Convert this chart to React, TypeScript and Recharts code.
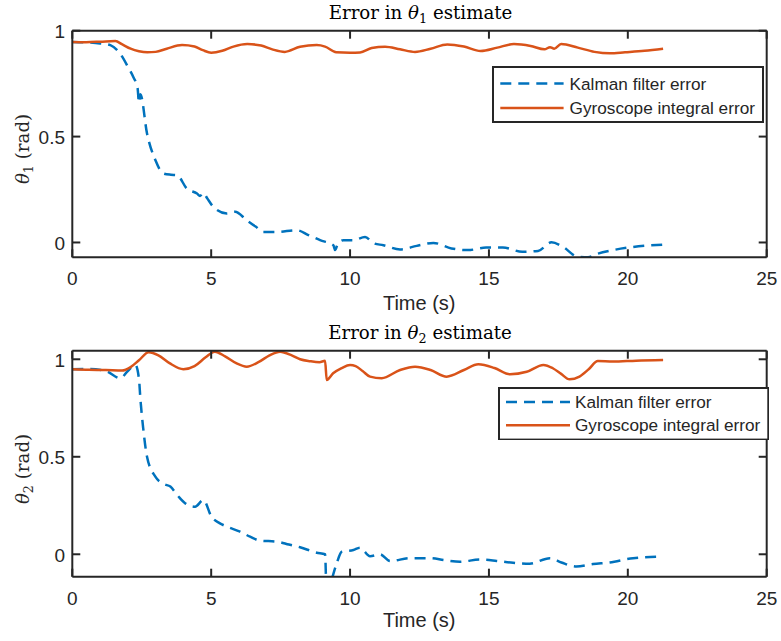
import React from 'react';
import { LineChart, Line, XAxis, YAxis, Legend } from 'recharts';

const xTicks = [0, 5, 10, 15, 20, 25];
const yTicks = [0, 0.5, 1];
const seriesNames = ['Kalman filter error', 'Gyroscope integral error'];

// theta1 - Kalman filter error
const kalman1T = [0, 0.5, 1.0, 1.37, 1.73, 2.0, 2.2, 2.35, 2.4, 2.45, 2.69, 2.99, 3.28, 3.55, 3.77, 4.12, 4.49, 4.6, 4.72, 4.85, 5.08, 5.56, 5.86, 6.28, 6.6, 6.88, 7.36, 8.08, 8.5, 8.92, 9.4, 9.46, 9.55, 9.76, 10.12, 10.54, 10.84, 11.2, 11.8, 12.4, 13.0, 13.65, 14.25, 14.9, 15.5, 16.2, 16.77, 17.25, 17.67, 18.15, 18.57, 18.87, 19.47, 20.19, 21.27];
const kalman1V = [0.947, 0.945, 0.94, 0.932, 0.89, 0.83, 0.78, 0.73, 0.66, 0.7, 0.515, 0.389, 0.326, 0.32, 0.318, 0.255, 0.231, 0.22, 0.235, 0.21, 0.168, 0.137, 0.145, 0.105, 0.075, 0.05, 0.05, 0.058, 0.035, 0.011, -0.013, -0.036, -0.01, 0.011, 0.011, 0.026, -0.003, -0.013, -0.033, -0.016, -0.002, -0.028, -0.036, -0.024, -0.024, -0.044, -0.04, 0.001, -0.021, -0.065, -0.07, -0.055, -0.036, -0.021, -0.01];

// theta1 - Gyroscope integral error
const gyro1T = [0, 0.5, 1.0, 1.55, 1.8, 2.1, 2.4, 2.7, 3.0, 3.4, 3.95, 4.4, 4.7, 5.0, 5.4, 5.8, 6.3, 6.8, 7.2, 7.65, 8.2, 8.8, 9.1, 9.5, 10.0, 10.36, 10.78, 11.26, 11.8, 12.34, 12.9, 13.5, 14.1, 14.7, 15.3, 15.9, 16.5, 17.0, 17.2, 17.35, 17.6, 18.2, 18.8, 19.35, 19.9, 20.6, 21.27];
const gyro1V = [0.947, 0.946, 0.948, 0.951, 0.935, 0.915, 0.903, 0.898, 0.9, 0.915, 0.932, 0.925, 0.908, 0.896, 0.905, 0.925, 0.937, 0.93, 0.912, 0.9, 0.924, 0.932, 0.925, 0.898, 0.896, 0.897, 0.918, 0.924, 0.912, 0.9, 0.915, 0.935, 0.925, 0.904, 0.92, 0.937, 0.928, 0.912, 0.922, 0.915, 0.937, 0.92, 0.9, 0.893, 0.898, 0.905, 0.915];

// theta2 - Kalman filter error
const kalman2T = [0, 0.6, 1.2, 1.73, 2.0, 2.27, 2.4, 2.45, 2.55, 2.69, 2.99, 3.3, 3.53, 3.8, 4.06, 4.42, 4.72, 5.01, 5.3, 5.56, 6.04, 6.4, 6.76, 7.36, 7.8, 8.2, 8.8, 9.1, 9.16, 9.3, 9.52, 9.7, 10.12, 10.36, 10.72, 11.08, 11.44, 12.16, 12.88, 13.4, 13.96, 14.68, 15.28, 15.87, 16.47, 17.19, 17.61, 18.15, 18.75, 19.35, 20.19, 21.27];
const kalman2V = [0.949, 0.95, 0.94, 0.903, 0.94, 0.971, 0.9, 0.8, 0.65, 0.5, 0.398, 0.36, 0.347, 0.3, 0.262, 0.244, 0.278, 0.193, 0.16, 0.142, 0.116, 0.09, 0.07, 0.065, 0.05, 0.036, 0.008, 0.0, -0.22, -0.15, -0.046, 0.013, 0.022, 0.034, -0.01, 0.0, -0.035, -0.02, -0.02, -0.03, -0.038, -0.027, -0.034, -0.044, -0.048, -0.02, -0.042, -0.063, -0.05, -0.042, -0.02, -0.012];

// theta2 - Gyroscope integral error
const gyro2T = [0, 0.6, 1.2, 1.79, 2.1, 2.4, 2.75, 3.1, 3.5, 4.0, 4.4, 4.8, 5.13, 5.5, 5.9, 6.28, 6.7, 7.1, 7.48, 7.9, 8.2, 8.56, 8.9, 9.1, 9.16, 9.39, 9.7, 10.0, 10.2, 10.45, 10.72, 11.14, 11.8, 12.34, 12.9, 13.48, 14.1, 14.62, 15.2, 15.76, 16.36, 16.96, 17.3, 17.6, 17.9, 18.26, 18.6, 18.92, 19.46, 20.3, 21.27];
const gyro2V = [0.949, 0.946, 0.945, 0.942, 0.96, 0.995, 1.036, 1.02, 0.98, 0.949, 0.965, 1.01, 1.039, 1.015, 0.98, 0.962, 0.985, 1.02, 1.039, 1.02, 1.0, 0.99, 0.985, 0.992, 0.894, 0.928, 0.955, 0.971, 0.965, 0.94, 0.911, 0.903, 0.945, 0.962, 0.945, 0.911, 0.945, 0.974, 0.955, 0.923, 0.936, 0.971, 0.954, 0.925, 0.897, 0.911, 0.95, 0.991, 0.988, 0.993, 0.996];

const zip = (t: number[], v: number[]) => t.map((x, i) => ({ t: x, v: v[i] }));

const BLUE = '#0072BD';
const ORANGE = '#D95319';
const AX = '#262626';
const SANS = '"Liberation Sans", Arial, Helvetica, sans-serif';
const SERIF = '"DejaVu Serif", serif';
const TICK_FS = 19;
const LEGEND_FS = 17.2;
const TICK_LEN = 8;
const DASH = '11 7';
const LW = 2.5;

const BottomTick = (props: any) => {
  const { x, y, payload } = props;
  return (
    <g>
      <line x1={x} x2={x} y1={y} y2={y - TICK_LEN} stroke={AX} strokeWidth={2} />
      <text x={x} y={y + 27.8} textAnchor="middle" fontSize={TICK_FS} fontFamily={SANS} fill={AX}>
        {payload.value}
      </text>
    </g>
  );
};
const TopTick = (props: any) => {
  const { x, y } = props;
  return <line x1={x} x2={x} y1={y} y2={y + TICK_LEN} stroke={AX} strokeWidth={2} />;
};
const LeftTick = (props: any) => {
  const { x, y, payload } = props;
  return (
    <g>
      <line x1={x} x2={x + TICK_LEN} y1={y} y2={y} stroke={AX} strokeWidth={2} />
      <text x={x - 7.3} y={y + 7.3} textAnchor="end" fontSize={TICK_FS} fontFamily={SANS} fill={AX}>
        {payload.value}
      </text>
    </g>
  );
};
const RightTick = (props: any) => {
  const { x, y } = props;
  return <line x1={x} x2={x - TICK_LEN} y1={y} y2={y} stroke={AX} strokeWidth={2} />;
};

type LegendGeom = { w: number; h: number; rows: number[]; lx0: number; lx1: number; tx: number };

const LegendBox = ({ g }: { g: LegendGeom }) => (
  <svg width={g.w} height={g.h} style={{ display: 'block' }}>
    <rect x={1} y={1} width={g.w - 2} height={g.h - 2} fill="#fff" stroke={AX} strokeWidth={2} />
    {seriesNames.map((name, i) => (
      <g key={name}>
        <line
          x1={g.lx0}
          x2={g.lx1}
          y1={g.rows[i]}
          y2={g.rows[i]}
          stroke={i === 0 ? BLUE : ORANGE}
          strokeWidth={LW}
          strokeDasharray={i === 0 ? DASH : undefined}
        />
        <text x={g.tx} y={g.rows[i] + 6} fontSize={LEGEND_FS} fontFamily={SANS} fill={AX}>
          {name}
        </text>
      </g>
    ))}
  </svg>
);

type PanelProps = {
  top: number;
  height: number;
  margin: { top: number; right: number; bottom: number; left: number };
  yDomain: [number, number];
  kalman: { t: number; v: number }[];
  gyro: { t: number; v: number }[];
  legendPos: { top: number; left: number };
  legendGeom: LegendGeom;
};

const Panel = ({ top, height, margin, yDomain, kalman, gyro, legendPos, legendGeom }: PanelProps) => (
  <div style={{ position: 'absolute', left: 0, top }}>
    <LineChart width={781} height={height} margin={margin}>
      <XAxis
        dataKey="t"
        type="number"
        domain={[0, 25]}
        ticks={xTicks}
        interval={0}
        allowDataOverflow
        height={30}
        axisLine={{ stroke: AX, strokeWidth: 2 }}
        tickLine={false}
        tickSize={0}
        tickMargin={0}
        tick={BottomTick}
      />
      <XAxis
        xAxisId="top"
        orientation="top"
        dataKey="t"
        type="number"
        domain={[0, 25]}
        ticks={xTicks}
        interval={0}
        allowDataOverflow
        height={1}
        axisLine={{ stroke: AX, strokeWidth: 2 }}
        tickLine={false}
        tickSize={0}
        tickMargin={0}
        tick={TopTick}
      />
      <YAxis
        type="number"
        domain={yDomain}
        ticks={yTicks}
        interval={0}
        allowDataOverflow
        width={60}
        axisLine={{ stroke: AX, strokeWidth: 2 }}
        tickLine={false}
        tickSize={0}
        tickMargin={0}
        tick={LeftTick}
      />
      <YAxis
        yAxisId="right"
        orientation="right"
        type="number"
        domain={yDomain}
        ticks={yTicks}
        interval={0}
        allowDataOverflow
        width={1}
        axisLine={{ stroke: AX, strokeWidth: 2 }}
        tickLine={false}
        tickSize={0}
        tickMargin={0}
        tick={RightTick}
      />
      <Line
        data={kalman}
        xAxisId="top"
        yAxisId="right"
        dataKey="v"
        name={seriesNames[0]}
        type="monotone"
        stroke={BLUE}
        strokeWidth={LW}
        strokeDasharray={DASH}
        dot={false}
        activeDot={false}
        isAnimationActive={false}
      />
      <Line
        data={gyro}
        dataKey="v"
        name={seriesNames[1]}
        type="monotone"
        stroke={ORANGE}
        strokeWidth={LW}
        dot={false}
        activeDot={false}
        isAnimationActive={false}
      />
      <Legend
        layout="vertical"
        align="center"
        verticalAlign="middle"
        width={legendGeom.w}
        height={legendGeom.h}
        wrapperStyle={{ top: legendPos.top, left: legendPos.left, width: legendGeom.w, height: legendGeom.h }}
        content={() => <LegendBox g={legendGeom} />}
      />
    </LineChart>
  </div>
);

const Theta = ({ sub }: { sub: string }) => (
  <>
    <tspan fontStyle="italic">θ</tspan>
    <tspan fontSize="0.7em" dy={4}>{sub}</tspan>
    <tspan dy={-4}>{'\u00a0'}</tspan>
  </>
);

export default function App() {
  return (
    <div style={{ position: 'absolute', left: 0, top: 0, width: 781, height: 641, background: '#fff', overflow: 'hidden' }}>
      <Panel
        top={0}
        height={300}
        margin={{ top: 29.7, right: 13.3, bottom: 12.7, left: 12.3 }}
        yDomain={[-0.07, 1]}
        kalman={zip(kalman1T, kalman1V)}
        gyro={zip(gyro1T, gyro1V)}
        legendPos={{ top: 65.7, left: 491.7 }}
        legendGeom={{ w: 272, h: 57, rows: [17.6, 42], lx0: 8.3, lx1: 71.6, tx: 77.6 }}
      />
      <Panel
        top={320}
        height={321}
        margin={{ top: 29.7, right: 13.3, bottom: 34.3, left: 12.3 }}
        yDomain={[-0.115, 1.044]}
        kalman={zip(kalman2T, kalman2V)}
        gyro={zip(gyro2T, gyro2V)}
        legendPos={{ top: 66.7, left: 498 }}
        legendGeom={{ w: 271.3, h: 53.6, rows: [15, 38.3], lx0: 8, lx1: 72, tx: 77 }}
      />
      <svg width={781} height={641} style={{ position: 'absolute', left: 0, top: 0, pointerEvents: 'none' }}>
        <text x={420.5} y={19.3} textAnchor="middle" fontSize={18.2} fontFamily={SERIF} fill="#000">
          Error in <Theta sub="1" />estimate
        </text>
        <text x={420} y={338.7} textAnchor="middle" fontSize={18.2} fontFamily={SERIF} fill="#000">
          Error in <Theta sub="2" />estimate
        </text>
        <text x={419.2} y={310} textAnchor="middle" fontSize={20} fontFamily={SANS} fill={AX}>
          Time (s)
        </text>
        <text x={419.2} y={626.5} textAnchor="middle" fontSize={20} fontFamily={SANS} fill={AX}>
          Time (s)
        </text>
        <text transform="translate(28.5,149) rotate(-90)" textAnchor="middle" fontSize={18.2} fontFamily={SERIF} fill={AX}>
          <Theta sub="1" />(rad)
        </text>
        <text transform="translate(28.5,469) rotate(-90)" textAnchor="middle" fontSize={18.2} fontFamily={SERIF} fill={AX}>
          <Theta sub="2" />(rad)
        </text>
      </svg>
    </div>
  );
}
